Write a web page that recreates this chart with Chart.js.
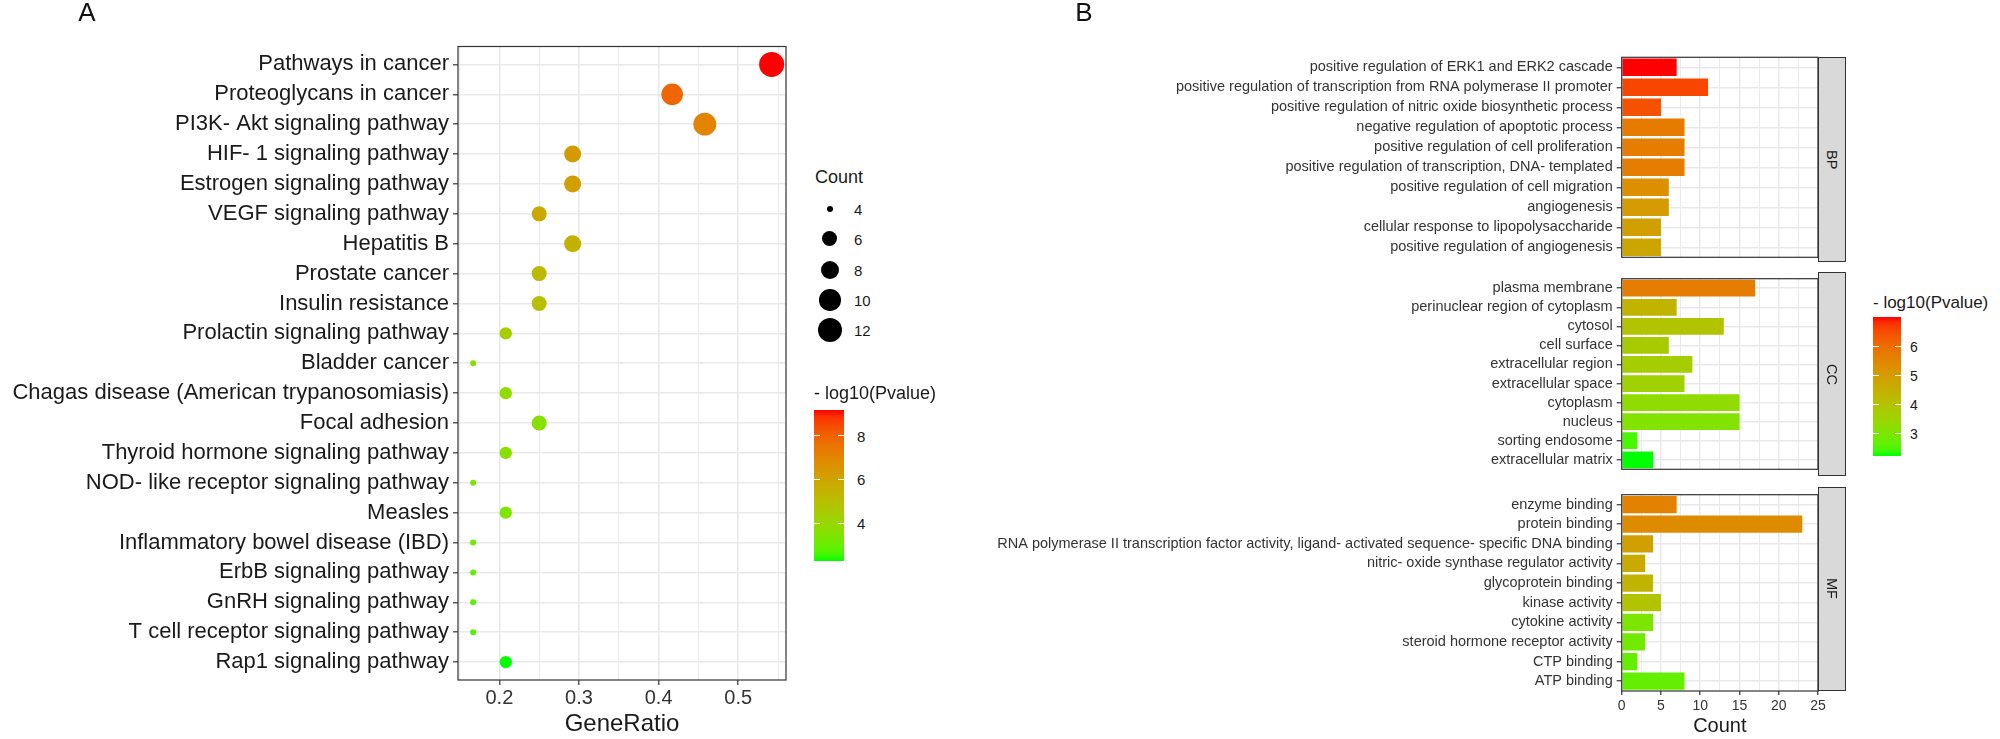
<!DOCTYPE html>
<html><head><meta charset="utf-8">
<script src="https://cdn.jsdelivr.net/npm/chart.js@4.4.0/dist/chart.umd.min.js"></script>
<style>
html,body{margin:0;padding:0;background:#fff}
body{width:2000px;height:739px;position:relative;overflow:hidden;font-family:"Liberation Sans",Arial,Helvetica,sans-serif;color:#1a1a1a}
canvas{position:absolute}
.t{position:absolute;white-space:nowrap;line-height:1}
.strip{position:absolute;background:#d9d9d9;border:1px solid #333;box-sizing:border-box;display:flex;align-items:center;justify-content:center}
.strip span{writing-mode:vertical-rl;font-size:14.5px;color:#1a1a1a;line-height:1}
.dot{position:absolute;background:#000;border-radius:50%}
.cbar{position:absolute}
.tk{position:absolute;background:#fff;height:1px;width:6px}
</style></head><body>
<canvas id="cA" width="800" height="739" style="left:0;top:0"></canvas>
<canvas id="cBP" width="960" height="270" style="left:900px;top:0"></canvas>
<canvas id="cCC" width="960" height="216" style="left:900px;top:266px"></canvas>
<canvas id="cMF" width="960" height="257" style="left:900px;top:482px"></canvas>
<div id="overlay"></div>
<script>
// ---------- Panel A data ----------
const pathwayNames = ["Pathways in cancer","Proteoglycans in cancer","PI3K- Akt signaling pathway","HIF- 1 signaling pathway","Estrogen signaling pathway","VEGF signaling pathway","Hepatitis B","Prostate cancer","Insulin resistance","Prolactin signaling pathway","Bladder cancer","Chagas disease (American trypanosomiasis)","Focal adhesion","Thyroid hormone signaling pathway","NOD- like receptor signaling pathway","Measles","Inflammatory bowel disease (IBD)","ErbB signaling pathway","GnRH signaling pathway","T cell receptor signaling pathway","Rap1 signaling pathway"];
const geneRatio = [0.542,0.417,0.458,0.292,0.292,0.250,0.292,0.250,0.250,0.208,0.167,0.208,0.250,0.208,0.167,0.208,0.167,0.167,0.167,0.167,0.208];
const pathwayCount = [13,10,11,7,7,6,7,6,6,5,4,5,6,5,4,5,4,4,4,4,5];
const pathwayLogP = [9.19,7.9,7.05,6.3,6.2,5.85,5.5,5.25,4.97,4.4,3.6,3.8,3.6,3.6,3.3,3.4,3.0,2.9,2.8,2.7,2.27];
const xTicksA = [0.15,0.2,0.25,0.3,0.35,0.4,0.45,0.5,0.55];
const countLegendA = [4,6,8,10,12];
const colorTicksA = [4,6,8];

// ---------- Panel B data ----------
const bpTerms = ["positive regulation of ERK1 and ERK2 cascade","positive regulation of transcription from RNA polymerase II promoter","positive regulation of nitric oxide biosynthetic process","negative regulation of apoptotic process","positive regulation of cell proliferation","positive regulation of transcription, DNA- templated","positive regulation of cell migration","angiogenesis","cellular response to lipopolysaccharide","positive regulation of angiogenesis"];
const bpCount = [7,11,5,8,8,8,6,6,5,5];
const bpLogP = [7.03,6.6,6.45,5.74,5.7,5.68,5.3,5.02,4.9,4.78];
const ccTerms = ["plasma membrane","perinuclear region of cytoplasm","cytosol","cell surface","extracellular region","extracellular space","cytoplasm","nucleus","sorting endosome","extracellular matrix"];
const ccCount = [17,7,13,6,9,8,15,15,2,4];
const ccLogP = [5.7,4.4,4.0,3.77,3.72,3.58,3.3,3.1,2.48,2.24];
const mfTerms = ["enzyme binding","protein binding","RNA polymerase II transcription factor activity, ligand- activated sequence- specific DNA binding","nitric- oxide synthase regulator activity","glycoprotein binding","kinase activity","cytokine activity","steroid hormone receptor activity","CTP binding","ATP binding"];
const mfCount = [7,23,4,3,4,5,4,3,2,8];
const mfLogP = [5.6,5.4,4.92,4.64,4.4,4.0,3.0,2.86,2.72,2.72];
const xTicksB = [0,2.5,5,7.5,10,12.5,15,17.5,20,22.5,25];
const colorTicksB = [3,4,5,6];
const facetNames = ["BP","CC","MF"];

const F = "'Liberation Sans', Arial, Helvetica, sans-serif";

// ---------- colour scale (ggplot-like Lab interpolation green -> red) ----------
function s2l(c){c/=255;return c<=0.04045?c/12.92:Math.pow((c+0.055)/1.055,2.4);}
function l2s(c){const v=c<=0.0031308?12.92*c:1.055*Math.pow(c,1/2.4)-0.055;return Math.round(Math.max(0,Math.min(1,v))*255);}
const Wn=[0.95047,1,1.08883];
function fl(t){return t>216/24389?Math.cbrt(t):(24389/27*t+16)/116;}
function fi(t){const t3=t*t*t;return t3>216/24389?t3:(116*t-16)/(24389/27);}
function rgb2lab(rgb){const R=s2l(rgb[0]),G=s2l(rgb[1]),B=s2l(rgb[2]);
 const X=(0.4124564*R+0.3575761*G+0.1804375*B)/Wn[0],Y=0.2126729*R+0.7151522*G+0.0721750*B,Z=(0.0193339*R+0.1191920*G+0.9503041*B)/Wn[2];
 const fx=fl(X),fy=fl(Y),fz=fl(Z);return [116*fy-16,500*(fx-fy),200*(fy-fz)];}
function lab2rgb(lab){const fy=(lab[0]+16)/116,fx=fy+lab[1]/500,fz=fy-lab[2]/200;
 const X=fi(fx)*Wn[0],Y=fi(fy),Z=fi(fz)*Wn[2];
 const R=3.2404542*X-1.5371385*Y-0.4985314*Z,G=-0.9692660*X+1.8760108*Y+0.0415560*Z,B=0.0556434*X-0.2040259*Y+1.0572252*Z;
 return 'rgb('+l2s(R)+','+l2s(G)+','+l2s(B)+')';}
const LOW=rgb2lab([0,255,0]),HIGH=rgb2lab([255,0,0]);
function gradColor(v,min,max){const t=Math.max(0,Math.min(1,(v-min)/(max-min)));return lab2rgb(LOW.map((l,i)=>l+(HIGH[i]-l)*t));}

const aMin=Math.min(...pathwayLogP),aMax=Math.max(...pathwayLogP);
const allB=bpLogP.concat(ccLogP,mfLogP);
const bMin=Math.min(...allB),bMax=Math.max(...allB);
const cMin=Math.min(...pathwayCount),cMax=Math.max(...pathwayCount);
function dotRadius(c){const s=1+5*Math.sqrt(Math.max(0,(c-cMin)/(cMax-cMin)));return (2.18+3.82*s)/2;}

const borderPlugin={id:'pborder',afterDraw(ch){const a=ch.chartArea,c=ch.ctx;c.save();c.strokeStyle='#333';c.lineWidth=1.2;c.strokeRect(a.left,a.top,a.right-a.left,a.bottom-a.top);c.restore();}};
const GRID='#e9e9e9';
function majA(v){return Math.abs(v*10-Math.round(v*10))<1e-6;}

// ---------- Panel A chart ----------
new Chart(document.getElementById('cA'),{
 type:'scatter',
 data:{datasets:[{
  data:geneRatio.map((g,i)=>({x:g,y:i})),
  pointRadius:pathwayCount.map(dotRadius),
  pointHoverRadius:pathwayCount.map(dotRadius),
  pointBackgroundColor:pathwayLogP.map(v=>gradColor(v,aMin,aMax)),
  pointBorderWidth:0
 }]},
 options:{responsive:false,animation:false,events:[],devicePixelRatio:1,
  layout:{padding:{left:0,top:46.5,right:14,bottom:0}},
  plugins:{legend:{display:false},tooltip:{enabled:false}},
  scales:{
   x:{type:'linear',min:0.148,max:0.56,
    afterBuildTicks(s){s.ticks=xTicksA.map(v=>({value:v}));},
    afterFit(s){s.height=59;},
    ticks:{callback:v=>majA(v)?v.toFixed(1):'',font:{size:20,family:F},color:'#333',padding:1,autoSkip:false,maxRotation:0},
    grid:{color:GRID,lineWidth:c=>(c.tick&&majA(c.tick.value))?1.6:0.9,tickLength:5,tickWidth:1.2,
     tickColor:c=>(c.tick&&majA(c.tick.value))?'#333':'rgba(0,0,0,0)'},
    border:{display:false},
    title:{display:true,text:'GeneRatio',font:{size:24,family:F},color:'#1a1a1a',padding:{top:0,bottom:0}}
   },
   y:{type:'linear',min:-0.6,max:20.6,reverse:true,
    afterBuildTicks(s){s.ticks=pathwayNames.map((n,i)=>({value:i}));},
    afterFit(s){s.width=458;},
    ticks:{callback:v=>pathwayNames[v],font:{size:22,family:F},color:'#1a1a1a',padding:4,autoSkip:false},
    grid:{color:GRID,lineWidth:1.6,tickLength:5,tickWidth:1.2,tickColor:'#333'},
    border:{display:false}
   }
  }
 },
 plugins:[borderPlugin]
});

// ---------- Panel B facets ----------
const B_LEFT=900;
function facet(id,terms,counts,logp,top,bottom,cTop,cH,showX){
 new Chart(document.getElementById(id),{
  type:'bar',
  data:{labels:terms,datasets:[{data:counts,backgroundColor:logp.map(v=>gradColor(v,bMin,bMax)),barPercentage:0.88,categoryPercentage:1,borderWidth:0}]},
  options:{indexAxis:'y',responsive:false,animation:false,events:[],devicePixelRatio:1,
   layout:{padding:{left:0,right:42,top:top-cTop,bottom:showX?0:(cTop+cH-bottom)}},
   plugins:{legend:{display:false},tooltip:{enabled:false}},
   scales:{
    x:{type:'linear',min:0,max:25,
     afterBuildTicks(s){s.ticks=xTicksB.map(v=>({value:v}));},
     afterFit(s){s.height=showX?(cTop+cH-bottom):0;},
     ticks:{display:showX,callback:v=>v%5===0?String(v):'',font:{size:14,family:F},color:'#333',padding:2.5,autoSkip:false,maxRotation:0},
     grid:{color:GRID,drawTicks:showX,lineWidth:c=>(c.tick&&c.tick.value%5===0)?1.5:0.9,tickLength:4,tickWidth:1.2,
      tickColor:c=>(c.tick&&c.tick.value%5===0)?'#333':'rgba(0,0,0,0)'},
     border:{display:false},
     title:{display:showX,text:'Count',font:{size:20,family:F},color:'#1a1a1a',padding:{top:0,bottom:1}}
    },
    y:{type:'category',offset:true,
     afterFit(s){s.width=1621.7-B_LEFT;},
     ticks:{font:{size:14.5,family:F},color:'#333',padding:4,autoSkip:false},
     grid:{offset:false,color:GRID,lineWidth:1.5,tickLength:5,tickWidth:1.2,tickColor:'#333'},
     border:{display:false}
    }
   }
  },
  plugins:[borderPlugin]
 });
}
const facetBox=[[57.3,261.7],[272,476.4],[486.7,691]];
facet('cBP',bpTerms,bpCount,bpLogP,facetBox[0][0],facetBox[0][1],0,270,false);
facet('cCC',ccTerms,ccCount,ccLogP,facetBox[1][0],facetBox[1][1],266,216,false);
facet('cMF',mfTerms,mfCount,mfLogP,facetBox[2][0],facetBox[2][1],482,257,true);

// ---------- overlay: letters, strips, legends ----------
const ov=document.getElementById('overlay');
function txt(x,yc,s,size,color,align){const d=document.createElement('div');d.className='t';d.textContent=s;
 d.style.fontSize=size+'px';d.style.color=color||'#1a1a1a';
 d.style.top=(yc-0.4885*size)+'px';
 if(align==='center'){d.style.left=x+'px';d.style.transform='translateX(-50%)';}else{d.style.left=x+'px';}
 ov.appendChild(d);return d;}
txt(87,12,'A',26,'#111','center');
txt(1084,12,'B',26,'#111','center');

facetNames.forEach((n,i)=>{const d=document.createElement('div');d.className='strip';
 d.style.left='1818px';d.style.width='28px';d.style.top=facetBox[i][0]+'px';d.style.height=(facetBox[i][1]-facetBox[i][0])+'px';
 const s=document.createElement('span');s.textContent=n;d.appendChild(s);ov.appendChild(d);});

// Count legend (A)
txt(815,177,'Count',18);
const countY=[209,239,270,300,330];
countLegendA.forEach((c,i)=>{const r=dotRadius(c);const d=document.createElement('div');d.className='dot';
 d.style.left=(830-r)+'px';d.style.top=(countY[i]-r)+'px';d.style.width=(2*r)+'px';d.style.height=(2*r)+'px';ov.appendChild(d);
 txt(854,countY[i],String(c),15,'#1a1a1a');});

function colorbar(left,top,w,h,min,max,ticks,title,titleY,titleSize,labSize,labX){
 txt(left,titleY,title,titleSize);
 const stops=[];for(let k=0;k<=24;k++){const v=min+(max-min)*k/24;stops.push(gradColor(v,min,max)+' '+(k/24*100).toFixed(2)+'%');}
 const b=document.createElement('div');b.className='cbar';b.style.left=left+'px';b.style.top=top+'px';b.style.width=w+'px';b.style.height=h+'px';
 b.style.background='linear-gradient(to top,'+stops.join(',')+')';ov.appendChild(b);
 ticks.forEach(v=>{const y=top+(max-v)/(max-min)*h;
  [left,left+w-6].forEach(x=>{const t=document.createElement('div');t.className='tk';t.style.left=x+'px';t.style.top=(y-0.5)+'px';ov.appendChild(t);});
  txt(labX,y,String(v),labSize,'#1a1a1a');});
}
colorbar(814,410,30,151,aMin,aMax,colorTicksA,'- log10(Pvalue)',393,18,15,857);
colorbar(1873,317,28,139,bMin,bMax,colorTicksB,'- log10(Pvalue)',302,17,14,1910);
</script>
</body></html>
